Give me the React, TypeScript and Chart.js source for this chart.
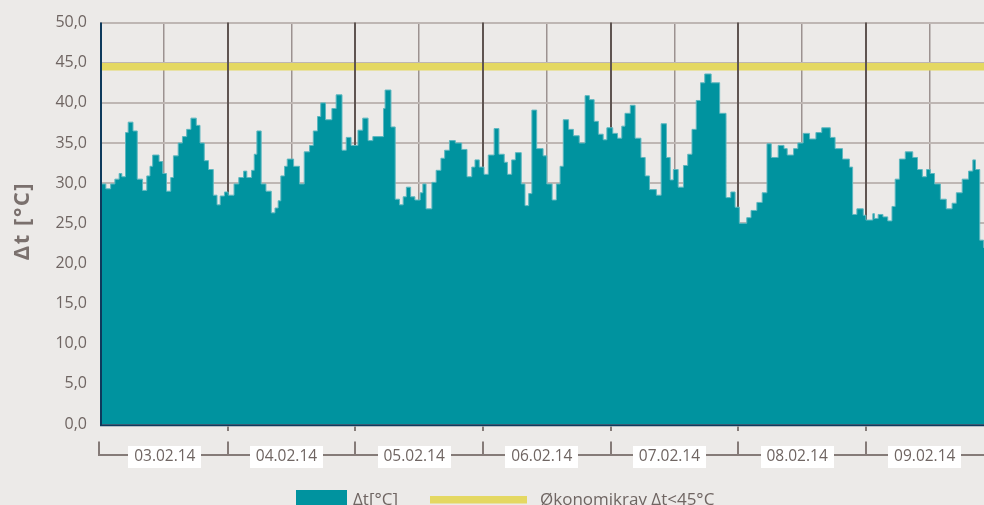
import React, { useEffect, useRef } from 'react';
import { Chart, registerables } from 'chart.js';

Chart.register(...registerables);

// Time of each reading (hours since 03.02.14 00:00) and the measured Δt in °C
const hours = [
  0, 1.1, 2.0, 2.8, 3.6, 4.1, 4.8, 5.3, 6.2, 7.0, 8.0, 8.8, 9.4, 9.9, 11.1, 11.8,
  12.5, 13.3, 13.8, 14.7, 15.5, 16.3, 17.1, 18.1, 18.8, 19.6, 20.4, 21.3, 22.0, 22.6, 23.4,
  24.1, 25.2, 26.1, 27.0, 27.6, 28.5, 29.0, 29.5, 30.3, 31.2, 32.2, 32.9, 33.5, 34.0, 34.7,
  35.2, 36.4, 37.5, 38.4, 39.4, 40.1, 40.9, 41.5, 42.4, 43.6, 44.4, 45.5, 46.3, 47.2,
  48.5, 49.4, 50.4, 51.3, 53.3, 53.6, 54.7, 55.5, 56.3, 57.0, 57.6, 58.4, 59.2, 60.2, 60.7,
  61.3, 62.4, 63.2, 64.1, 64.8, 65.7, 66.8, 68.0, 69.0, 69.9, 70.5, 71.3,
  72.2, 73.0, 74.1, 75.0, 76.0, 76.6, 77.4, 78.1, 79.2, 79.9, 80.6, 81.2, 82.1, 83.3,
  84.0, 85.0, 85.8, 86.5, 87.1, 88.1, 89.0, 90.1, 91.2, 92.0, 92.9, 93.7, 94.6, 95.3,
  96.4, 97.3, 98.1, 98.7, 99.7, 100.6, 101.7, 102.5, 103.3, 104.6, 105.5, 106.5, 107.2, 107.8,
  108.7, 109.7, 110.5, 111.3, 112.1, 112.9, 113.7, 114.9, 116.5, 117.7, 118.6, 119.4,
  120.2, 121.6, 122.4, 123.5, 124.5, 125.4, 126.2, 127.5, 128.6, 129.2, 130.4, 131.2,
  132.2, 133.4, 134.6, 135.7, 137.3, 138.2, 139.6, 140.9, 141.5, 142.3, 143.5,
  144.0, 145.3, 145.6, 146.3, 147.2, 148.1, 148.9, 149.5, 150.3, 151.4, 152.8, 153.7, 154.6, 155.4,
  156.1, 156.9, 158.0, 159.1, 160.2, 161.0, 162.1, 163.3, 164.1, 164.6, 165.4, 166.1,
];

const dtValues = [
  29.9, 29.3, 29.9, 30.5, 31.2, 30.8, 36.3, 37.6, 36.5, 30.5, 29.1, 30.9, 32.1, 33.5, 32.7, 31.2,
  29.0, 30.7, 33.4, 35.0, 35.8, 36.7, 38.1, 37.2, 35.0, 32.8, 31.7, 28.5, 27.3, 28.4, 28.9,
  28.5, 29.9, 30.7, 31.5, 30.7, 31.6, 33.6, 36.5, 29.9, 29.0, 26.3, 26.9, 27.8, 30.9, 32.1,
  33.0, 32.1, 29.9, 33.9, 34.7, 36.5, 38.3, 40.0, 37.9, 39.3, 41.0, 34.1, 35.7, 34.7,
  36.6, 38.1, 35.3, 35.8, 39.3, 41.6, 37.0, 28.0, 27.3, 28.3, 29.5, 28.3, 27.9, 28.8, 29.9,
  26.8, 30.1, 31.6, 33.1, 34.1, 35.3, 35.0, 34.2, 30.8, 32.0, 32.9, 32.0,
  31.1, 33.5, 36.8, 33.6, 32.6, 31.1, 32.9, 33.8, 29.9, 27.2, 28.7, 39.1, 34.3, 33.4,
  29.9, 27.9, 29.9, 32.1, 37.9, 36.7, 35.9, 35.0, 40.9, 40.4, 37.7, 36.1, 35.4, 36.9,
  36.2, 35.6, 37.1, 38.7, 39.7, 35.6, 33.2, 30.9, 29.2, 28.5, 37.4, 33.2, 30.4, 31.7,
  29.5, 32.2, 33.6, 36.7, 40.3, 42.5, 43.6, 42.5, 38.7, 28.2, 28.9, 27.0,
  25.0, 25.7, 26.6, 27.6, 28.8, 34.9, 33.2, 34.7, 34.3, 33.5, 34.3, 35.0,
  36.2, 35.5, 36.3, 36.9, 35.7, 34.3, 33.0, 32.0, 26.1, 26.8, 26.0,
  25.4, 26.2, 25.6, 26.1, 25.8, 25.3, 27.1, 30.5, 33.0, 33.9, 33.2, 31.7, 30.8, 31.7,
  31.2, 29.9, 28.0, 26.8, 27.5, 28.8, 30.5, 31.5, 32.9, 31.7, 22.9, 22.0,
];

const dayLabels = ['03.02.14', '04.02.14', '05.02.14', '06.02.14', '07.02.14', '08.02.14', '09.02.14'];
const limitValue = 44.5;
const visibleHours = 166.2;
const yMin = 0;
const yMax = 50;
const yStep = 5;
const seriesLabel = 'Δt[°C]';
const limitLabel = 'Økonomikrav Δt<45°C';
const yTitle = 'Δt [°C]';

const BG = '#ECEAE8';
const TEAL = '#00939F';
const TEAL_EDGE = '#5DB7BF';
const YELLOW = '#E4D862';
const NAVY = '#0E3A5C';
const TEXT = '#6F6562';
const GRID = '#BEB6B3';
const DAY_LINE = '#5F5451';
const HALF_LINE = '#9C9290';
const AXIS_GREY = '#857B78';
const FONT = '"Open Sans", "DejaVu Sans", sans-serif';

const customPlugin = {
  id: 'customDecor',
  beforeDraw(chart: any) {
    const { ctx, width, height } = chart;
    ctx.save();
    ctx.fillStyle = BG;
    ctx.fillRect(0, 0, width, height);
    ctx.restore();
  },
  afterDatasetDraw(chart: any, args: any) {
    if (args.index !== 1) return;
    const { ctx, chartArea } = chart;
    const xs = chart.scales.x;
    ctx.save();
    ctx.strokeStyle = DAY_LINE;
    ctx.lineWidth = 2;
    for (let d = 1; d < dayLabels.length; d++) {
      const x = Math.round(xs.getPixelForValue(d * 24));
      ctx.beginPath();
      ctx.moveTo(x, chartArea.top);
      ctx.lineTo(x, chartArea.bottom);
      ctx.stroke();
    }
    ctx.restore();
  },
  afterDatasetsDraw(chart: any) {
    const { ctx, chartArea } = chart;
    ctx.save();
    ctx.strokeStyle = NAVY;
    ctx.lineWidth = 2;
    ctx.beginPath();
    ctx.moveTo(chartArea.left + 1, chartArea.top);
    ctx.lineTo(chartArea.left + 1, chartArea.bottom + 2);
    ctx.stroke();
    ctx.beginPath();
    ctx.moveTo(chartArea.left, chartArea.bottom + 1.3);
    ctx.lineTo(chartArea.right, chartArea.bottom + 1.3);
    ctx.stroke();
    ctx.restore();
  },
  afterDraw(chart: any) {
    const { ctx, chartArea } = chart;
    const xs = chart.scales.x;
    ctx.save();
    // bracket axis
    ctx.strokeStyle = AXIS_GREY;
    ctx.lineWidth = 2;
    const bracketY = 455;
    ctx.beginPath();
    ctx.moveTo(chartArea.left - 1, bracketY);
    ctx.lineTo(chartArea.right, bracketY);
    ctx.stroke();
    for (let d = 0; d < dayLabels.length; d++) {
      const x = Math.round(xs.getPixelForValue(d * 24)) - (d === 0 ? 1 : 0);
      ctx.beginPath();
      ctx.moveTo(x, 441.5);
      ctx.lineTo(x, bracketY + 1);
      ctx.stroke();
      if (d > 0) {
        ctx.beginPath();
        ctx.moveTo(x, chartArea.bottom + 2.5);
        ctx.lineTo(x, chartArea.bottom + 7);
        ctx.stroke();
      }
    }
    // day labels
    ctx.font = `15.5px ${FONT}`;
    ctx.textAlign = 'center';
    ctx.textBaseline = 'middle';
    dayLabels.forEach((lab, d) => {
      const cx = xs.getPixelForValue(d * 24 + 12) + (d === 0 ? 1 : -5);
      const w = 73;
      ctx.fillStyle = '#FFFFFF';
      ctx.fillRect(Math.round(cx - w / 2), 446, w, 22);
      ctx.fillStyle = TEXT;
      ctx.fillText(lab, cx, 457);
    });
    // legend
    ctx.fillStyle = TEAL;
    ctx.fillRect(296, 490, 51, 20);
    ctx.fillStyle = YELLOW;
    ctx.fillRect(430, 496, 97, 7.5);
    ctx.fillStyle = TEXT;
    ctx.font = `17px ${FONT}`;
    ctx.textAlign = 'left';
    ctx.textBaseline = 'alphabetic';
    ctx.fillText(seriesLabel, 353, 504.5);
    ctx.fillText(limitLabel, 540, 504.5);
    // y title
    ctx.translate(22.5, 221);
    ctx.rotate(-Math.PI / 2);
    ctx.font = `bold 22px ${FONT}`;
    try {
      (ctx as any).letterSpacing = '1.5px';
    } catch (e) {
      /* ignore */
    }
    ctx.textAlign = 'center';
    ctx.textBaseline = 'middle';
    ctx.fillStyle = '#7A706D';
    ctx.fillText(yTitle, 0, 0);
    ctx.restore();
  },
};

export default function App() {
  const canvasRef = useRef<HTMLCanvasElement | null>(null);

  useEffect(() => {
    const canvas = canvasRef.current;
    if (!canvas) return;
    const series = hours.map((h, i) => ({ x: h, y: dtValues[i] }));
    series.push({ x: visibleHours + 1, y: dtValues[dtValues.length - 1] });
    const chart = new Chart(canvas, {
      type: 'line',
      data: {
        datasets: [
          {
            label: seriesLabel,
            data: series,
            stepped: 'before',
            fill: 'origin',
            backgroundColor: TEAL,
            borderColor: TEAL_EDGE,
            borderWidth: 1,
            pointRadius: 0,
            order: 1,
          },
          {
            label: limitLabel,
            data: [
              { x: 0, y: limitValue },
              { x: visibleHours, y: limitValue },
            ],
            borderColor: YELLOW,
            borderWidth: 7.5,
            pointRadius: 0,
            fill: false,
            order: 2,
          },
        ],
      },
      options: {
        responsive: false,
        animation: false,
        devicePixelRatio: 1,
        layout: { padding: { top: 19, left: 0, right: 0, bottom: 0 } },
        plugins: { legend: { display: false }, tooltip: { enabled: false } },
        scales: {
          x: {
            type: 'linear',
            min: 0,
            max: visibleHours,
            afterFit: (s: any) => {
              s.height = 505 - 424;
            },
            ticks: { stepSize: 12, display: false, includeBounds: false },
            grid: {
              drawTicks: false,
              color: (c: any) => (c.tick && c.tick.value % 24 === 0 ? 'rgba(0,0,0,0)' : HALF_LINE),
              lineWidth: 1.5,
            },
            border: { display: false },
          },
          y: {
            min: yMin,
            max: yMax,
            afterFit: (s: any) => {
              s.width = 100;
            },
            ticks: {
              stepSize: yStep,
              padding: 13,
              color: TEXT,
              font: { family: FONT, size: 16 },
              callback: (v: any) => Number(v).toFixed(1).replace('.', ','),
            },
            grid: { drawTicks: false, color: GRID, lineWidth: 2 },
            border: { display: false },
          },
        },
      },
      plugins: [customPlugin],
    });
    return () => chart.destroy();
  }, []);

  return (
    <div style={{ position: 'fixed', left: 0, top: 0, width: 984, height: 505, overflow: 'hidden', background: BG }}>
      <canvas ref={canvasRef} width={984} height={505} style={{ display: 'block' }} />
    </div>
  );
}
